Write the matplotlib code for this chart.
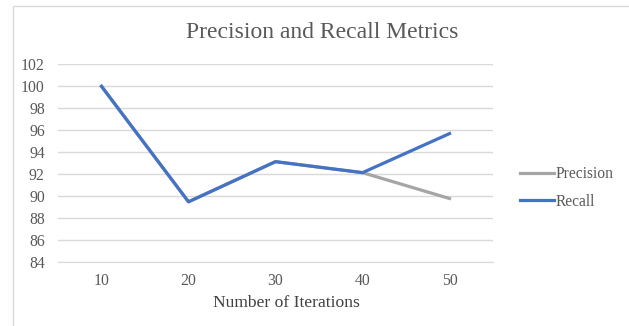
import matplotlib
matplotlib.use('Agg')
import matplotlib.pyplot as plt
from matplotlib.lines import Line2D

iterations = ['10', '20', '30', '40', '50']
precision = [100.0, 89.5, 93.15, 92.15, 89.8]
recall = [100.0, 89.5, 93.15, 92.15, 95.7]

plt.rcParams['font.family'] = ['Liberation Serif', 'DejaVu Serif']

fig = plt.figure(figsize=(6.29, 3.26), dpi=100)
# chart-area border, only the top and left edges show
fig.lines.append(Line2D([12.5 / 629, 12.5 / 629, 1], [0, 1 - 5.5 / 326, 1 - 5.5 / 326],
                        transform=fig.transFigure, color='#d9d9d9', linewidth=1))
ax = fig.add_axes([58 / 629, 1 - 262.3 / 326, 435 / 629, 198 / 326])

x = range(len(iterations))
ax.plot(x, precision, color='#a5a5a5', linewidth=2.3, label='Precision')
ax.plot(x, recall, color='#4472c4', linewidth=2.3, label='Recall')

ax.set_xlim(-0.5, len(iterations) - 0.5)
ax.set_ylim(84, 102)
ax.set_yticks(range(84, 103, 2))
ax.set_xticks(list(x))
ax.set_xticklabels(iterations)
ax.grid(axis='y', color='#d9d9d9', linewidth=1)
ax.set_axisbelow(True)
for s in ax.spines.values():
    s.set_visible(False)
ax.spines['bottom'].set_visible(True)
ax.spines['bottom'].set_color('#d9d9d9')
ax.tick_params(length=0, labelsize=11.3, colors='#595959', pad=8)
ax.tick_params(axis='y', pad=9.5)

fig.text(286 / 629, 1 - 303 / 326, 'Number of Iterations',
         ha='center', va='center', fontsize=12.6, color='#404040')
fig.text(322 / 629, 1 - 32 / 326, 'Precision and Recall Metrics',
         ha='center', va='center', fontsize=17, color='#595959')

ax.legend(loc='center left', bbox_to_anchor=(506 / 629, 1 - 188 / 326),
          bbox_transform=fig.transFigure, frameon=False, fontsize=11.2,
          handlelength=2.2, handletextpad=0.1, labelspacing=0.75,
          labelcolor='#595959')

fig.savefig('out.png', dpi=100)
